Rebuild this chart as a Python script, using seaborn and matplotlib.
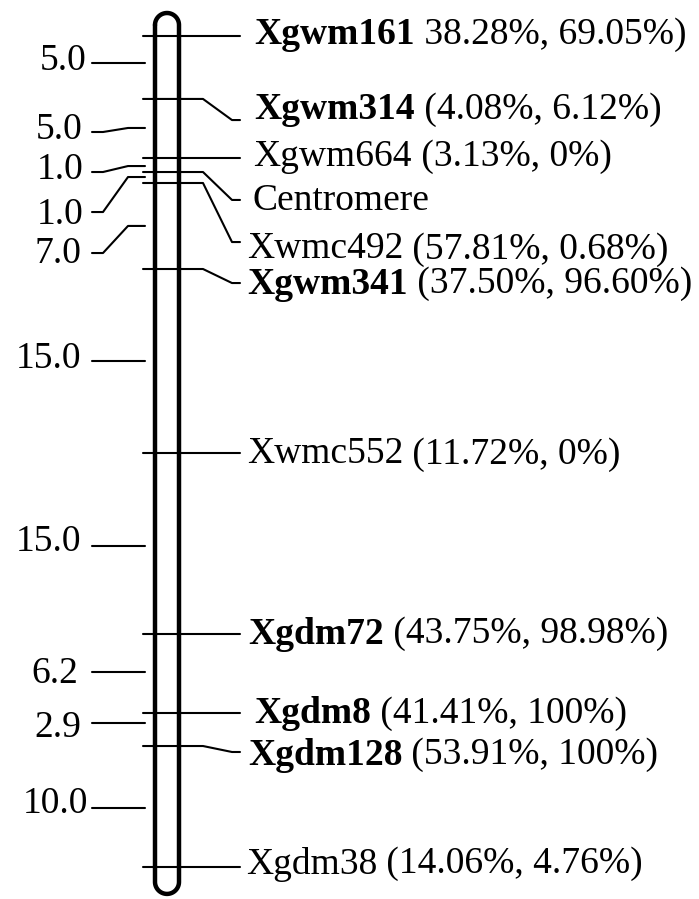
import numpy as np
import pandas as pd
import matplotlib
matplotlib.use("Agg")
import matplotlib.pyplot as plt
import seaborn as sns

# markers on the chromosome (top -> bottom), positions in cM
markers = ["Xgwm161", "Xgwm314", "Xgwm664", "Centromere", "Xwmc492", "Xgwm341",
           "Xwmc552", "Xgdm72", "Xgdm8", "Xgdm128", "Xgdm38"]
marker_cm = [0, 5.16, 10.0, 11.15, 12.05, 19.1, 34.18, 49.02, 55.49, 58.2, 68.11]
marker_info = ["38.28%, 69.05%)", "(4.08%, 6.12%)", "(3.13%, 0%)", "",
               "(57.81%, 0.68%)", "(37.50%, 96.60%)", "(11.72%, 0%)",
               "(43.75%, 98.98%)", "(41.41%, 100%)", "(53.91%, 100%)", "(14.06%, 4.76%)"]
marker_bold = [True, True, False, False, False, True, False, True, True, True, False]

# distances between markers (left side)
dist_labels = ["5.0", "5.0", "1.0", "1.0", "7.0", "15.0", "15.0", "6.2", "2.9", "10.0"]
dist_cm = [2.21, 7.54, 10.66, 11.56, 15.57, 26.64, 41.80, 52.13, 56.31, 63.28]

# layout (label positions)
right_end = [0, 6.89, 10.0, 13.44, 16.89, 20.25, 34.18, 49.02, 55.49, 58.69, 68.11]
right_txt_y = [-0.29, 5.86, 9.75, 13.36, 17.30, 20.16, 34.10, 48.85, 55.33, 58.77, 67.70]
right_txt_x = [254, 254, 253, 253, 247, 247, 247, 248, 254, 248, 246]
left_line = [2.21, 7.87, 11.15, 14.43, 17.79, 26.64, 41.80, 52.13, 56.31, 63.28]
left_txt_y = [1.84, 7.54, 10.82, 14.51, 17.70, 26.31, 41.31, 52.13, 56.56, 62.79]
left_txt_x = [86, 83, 83, 83, 81, 81, 81, 78, 81, 88]
txt_dy = 0.18  # va=center sits a little high for digits

px_per_cm = 12.2
fs = 27

sns.set_theme(style="white")
plt.rcParams["font.family"] = ["Liberation Serif", "DejaVu Serif"]
plt.rcParams["text.color"] = "black"

fig = plt.figure(figsize=(6.99, 8.99), dpi=100)
ax = fig.add_axes([0, 0, 1, 1])

# leader lines as one long table -> seaborn
rows = []
for i, m in enumerate(markers):
    for x, y in zip([143, 203, 232, 240], [marker_cm[i], marker_cm[i], right_end[i], right_end[i]]):
        rows.append({"x": x, "y": y, "seg": "r" + str(i)})
for i, d in enumerate(dist_labels):
    for x, y in zip([92, 103, 128, 145], [left_line[i], left_line[i], dist_cm[i], dist_cm[i]]):
        rows.append({"x": x, "y": y, "seg": "l" + str(i)})
lines = pd.DataFrame(rows)

sns.lineplot(data=lines, x="x", y="y", units="seg", estimator=None, sort=False,
             color="black", lw=1.5, legend=False, ax=ax)

# chromosome outline (stadium shape), ends reach a bit past the outer markers
r = 12
ry = r / px_per_cm
y_top = -0.90
y_bot = 69.34
th = np.linspace(np.pi, 0, 40)
th2 = np.linspace(0, -np.pi, 40)
cx = np.concatenate([167 + r * np.cos(th), 167 + r * np.cos(th2), [155]])
cy = np.concatenate([y_top - ry * np.sin(th), y_bot - ry * np.sin(th2), [y_top]])
ax.plot(cx, cy, color="black", lw=3.2, solid_joinstyle="round")

# marker labels
for i, m in enumerate(markers):
    t = ax.text(right_txt_x[i], right_txt_y[i] + txt_dy, m, fontsize=fs, va="center", ha="left",
                fontweight="bold" if marker_bold[i] else "normal")
    if marker_info[i]:
        ax.annotate(" " + marker_info[i], xy=(1, 0.5), xycoords=t, va="center", ha="left",
                    fontsize=fs)

# distance labels
for i, d in enumerate(dist_labels):
    ax.text(left_txt_x[i], left_txt_y[i] + txt_dy, d, fontsize=fs, va="center", ha="right")

ax.set_xlim(0, 699)
ax.set_ylim(70.74, -2.95)
ax.axis("off")

plt.savefig("out.png", dpi=100)
